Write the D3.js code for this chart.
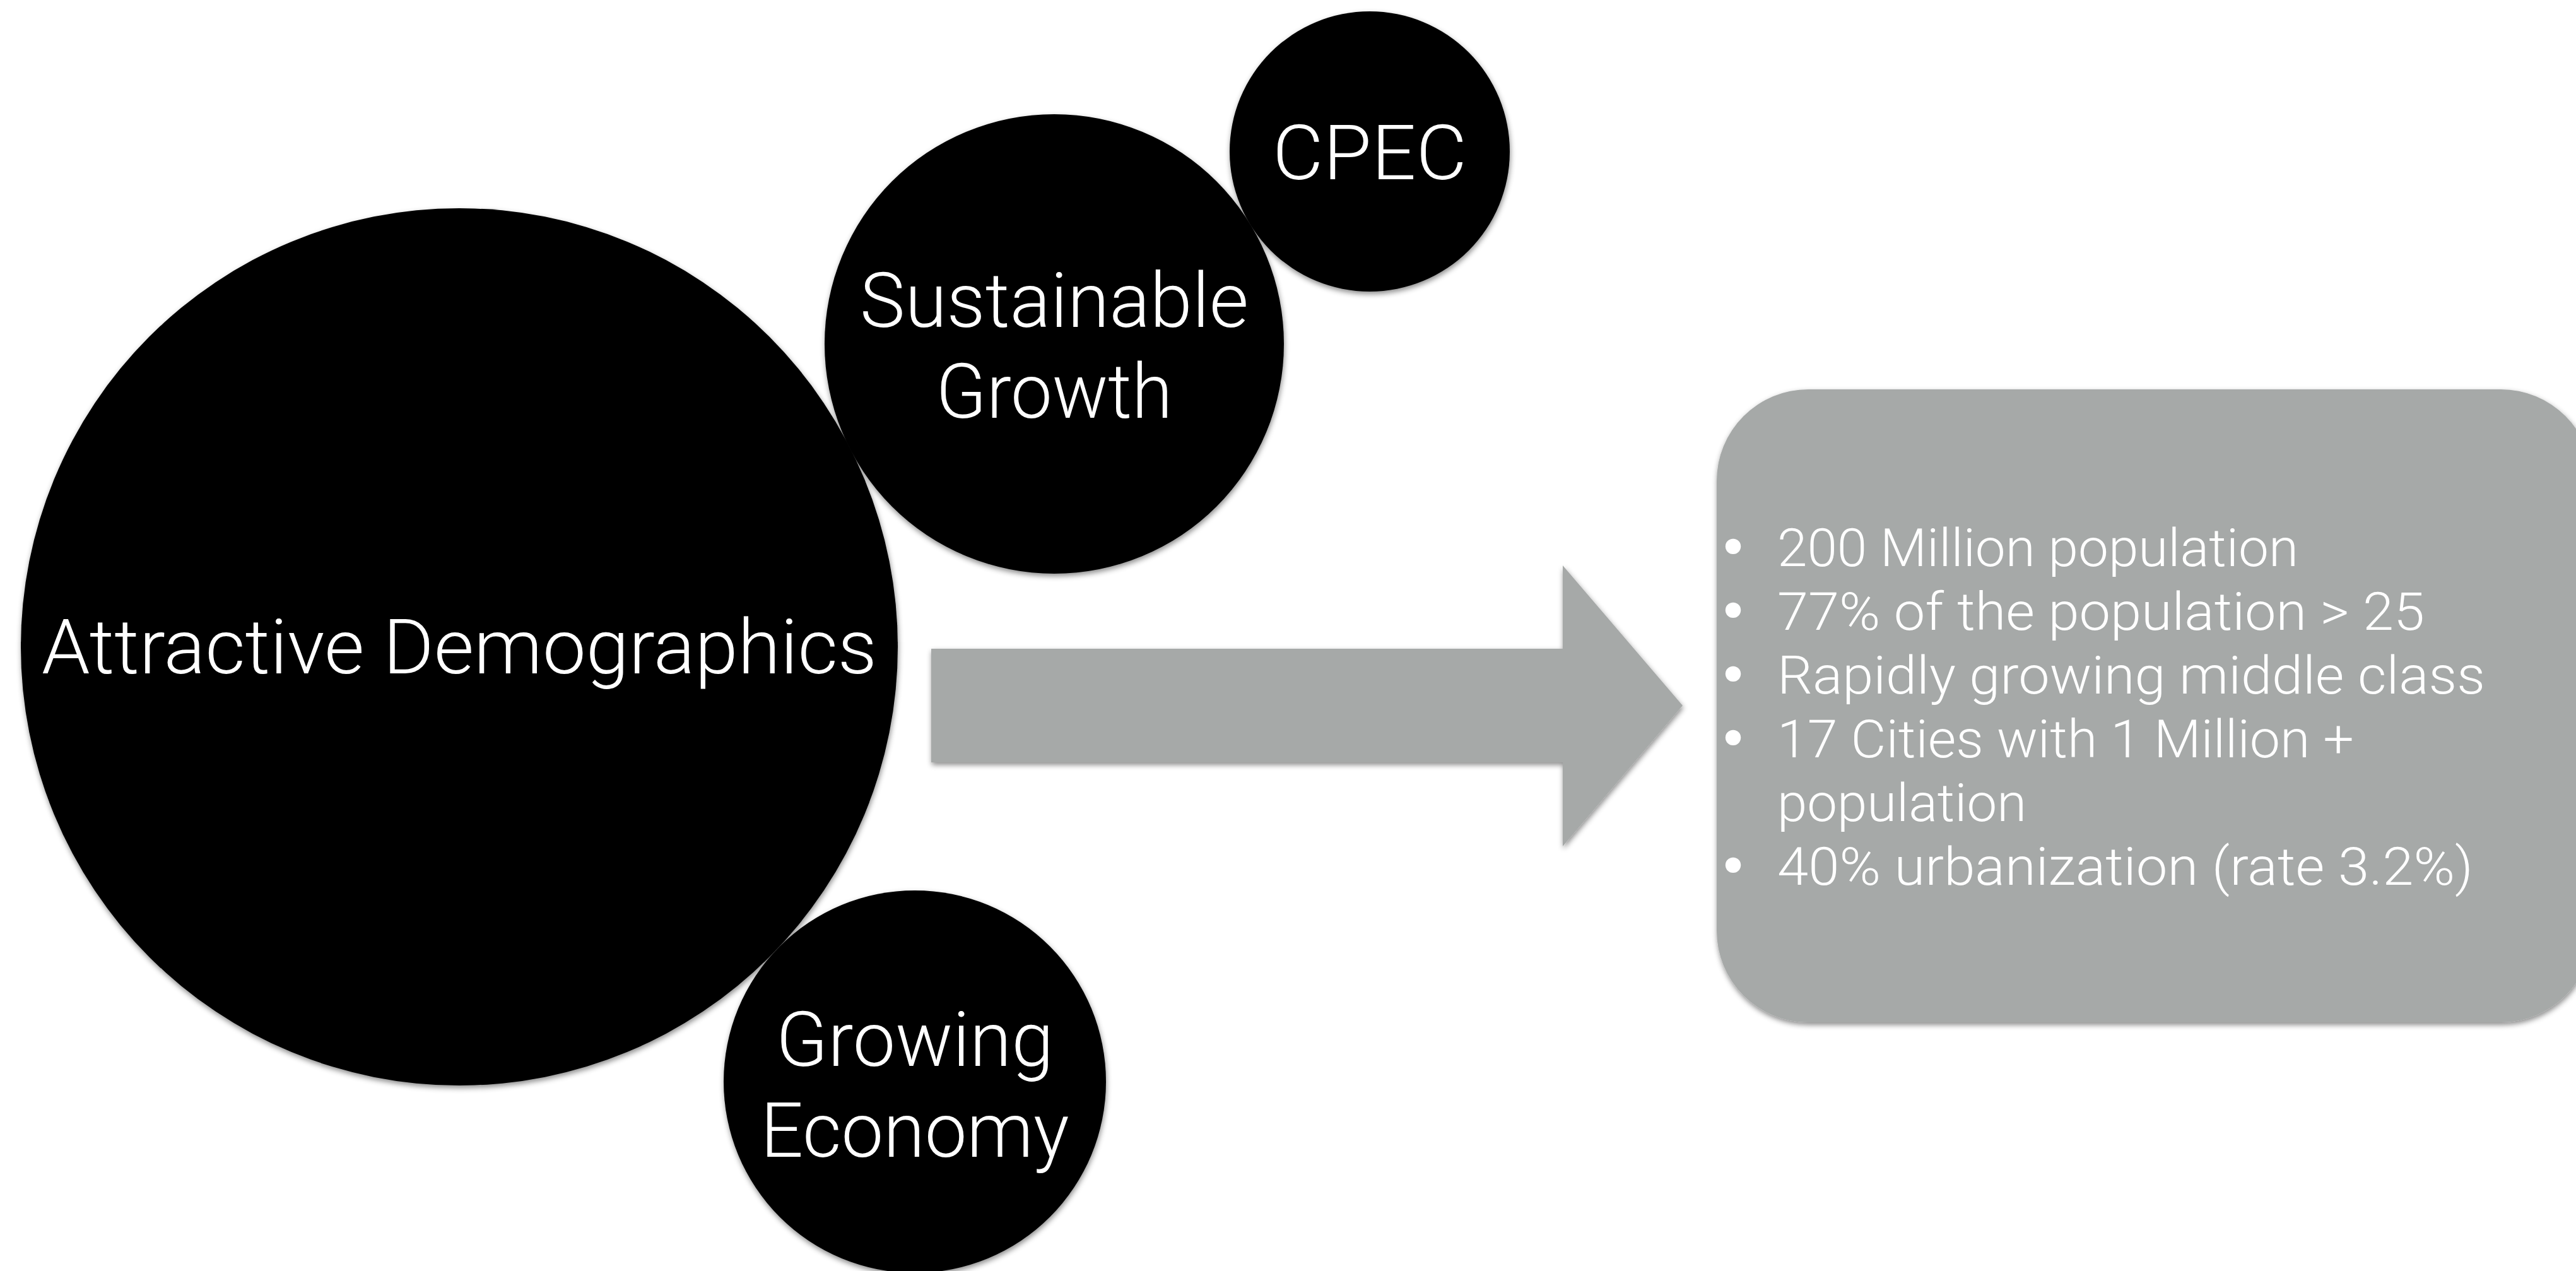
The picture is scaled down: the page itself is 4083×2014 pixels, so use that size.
<!DOCTYPE html>
<html>
<head>
<meta charset="utf-8">
<script src="https://cdn.jsdelivr.net/npm/d3@7"></script>
<style>
  html, body { margin: 0; padding: 0; background: #ffffff; overflow: hidden; }
  svg { display: block; }
</style>
</head>
<body>
<script>
// ---- data ----
const bubbleNames = ["Attractive Demographics", "Sustainable Growth", "CPEC", "Growing Economy"];
const bubbleLines = [["Attractive Demographics"], ["Sustainable", "Growth"], ["CPEC"], ["Growing", "Economy"]];
const bubbleSizes = [695, 364, 222, 303];           // relative bubble radii
const bulletTexts = [
  "200 Million population",
  "77% of the population > 25",
  "Rapidly growing middle class",
  "17 Cities with 1 Million +",
  "population",
  "40% urbanization (rate 3.2%)"
];
const bulletFlags = [true, true, true, true, false, true];

// ---- layout (positions / sizes / styles) ----
const W = 4083, H = 2014;
const bubbleCenters = [[728, 1025], [1671, 545], [2171, 240], [1450, 1714]];
const lineWidths = [[1324], [616, 375], [308], [440, 489]];
const firstBaselineOffset = [42, -27, 44, -25];
const bubbleLineGap = 144;
const bulletWidths = [826, 1026, 1122, 914, 395, 1103];
const grey = "#a6a9a8";
const font = "Roboto, 'Helvetica Neue', Arial, sans-serif";

const rScale = d3.scaleLinear().domain([0, 1]).range([0, 1]);

const svg = d3.select("body").append("svg")
  .attr("width", W).attr("height", H)
  .attr("viewBox", `0 0 ${W} ${H}`);

const defs = svg.append("defs");
const f = defs.append("filter").attr("id", "shadow")
  .attr("x", "-10%").attr("y", "-10%").attr("width", "120%").attr("height", "120%");
f.append("feDropShadow").attr("dx", 1).attr("dy", 4).attr("stdDeviation", 4)
  .attr("flood-color", "#000").attr("flood-opacity", 0.45);

// ---- arrow ----
const arrowPts = [[1476, 1028], [2477, 1028], [2477, 896], [2667, 1118], [2477, 1341], [2477, 1208], [1476, 1208]];
svg.append("path")
  .attr("d", d3.line()(arrowPts) + "Z")
  .attr("fill", grey)
  .attr("filter", "url(#shadow)");

// ---- rounded info box ----
svg.append("rect")
  .attr("x", 2721).attr("y", 617)
  .attr("width", 1388).attr("height", 1003)
  .attr("rx", 145).attr("ry", 145)
  .attr("fill", grey)
  .attr("filter", "url(#shadow)");

const lineY = d3.scaleLinear().domain([0, 1]).range([897, 998]);
const boxText = svg.append("g").attr("font-family", font).attr("font-weight", 300)
  .attr("font-size", 84).attr("fill", "#ffffff");
bulletTexts.forEach((t, i) => {
  if (bulletFlags[i]) {
    boxText.append("text")
      .attr("x", 2747).attr("y", lineY(i))
      .attr("text-anchor", "middle")
      .attr("font-family", "'DejaVu Sans', sans-serif")
      .attr("font-weight", 400)
      .text("\u2022");
  }
  boxText.append("text")
    .attr("x", 2817).attr("y", lineY(i))
    .attr("textLength", bulletWidths[i])
    .attr("lengthAdjust", "spacingAndGlyphs")
    .text(t);
});

// ---- bubbles ----
const bubbles = svg.append("g").selectAll("g.bubble")
  .data(bubbleNames.map((n, i) => ({ name: n, i })))
  .join("g").attr("class", "bubble");

bubbles.append("circle")
  .attr("cx", d => bubbleCenters[d.i][0])
  .attr("cy", d => bubbleCenters[d.i][1])
  .attr("r", d => rScale(bubbleSizes[d.i]))
  .attr("fill", "#000")
  .attr("filter", "url(#shadow)");

bubbles.each(function(d) {
  const g = d3.select(this);
  const [cx, cy] = bubbleCenters[d.i];
  bubbleLines[d.i].forEach((ln, k) => {
    g.append("text")
      .attr("x", cx)
      .attr("y", cy + firstBaselineOffset[d.i] + k * bubbleLineGap)
      .attr("text-anchor", "middle")
      .attr("font-family", font)
      .attr("font-weight", 300)
      .attr("font-size", 120)
      .attr("fill", "#ffffff")
      .attr("textLength", lineWidths[d.i][k])
      .attr("lengthAdjust", "spacingAndGlyphs")
      .text(ln);
  });
});
</script>
</body>
</html>
